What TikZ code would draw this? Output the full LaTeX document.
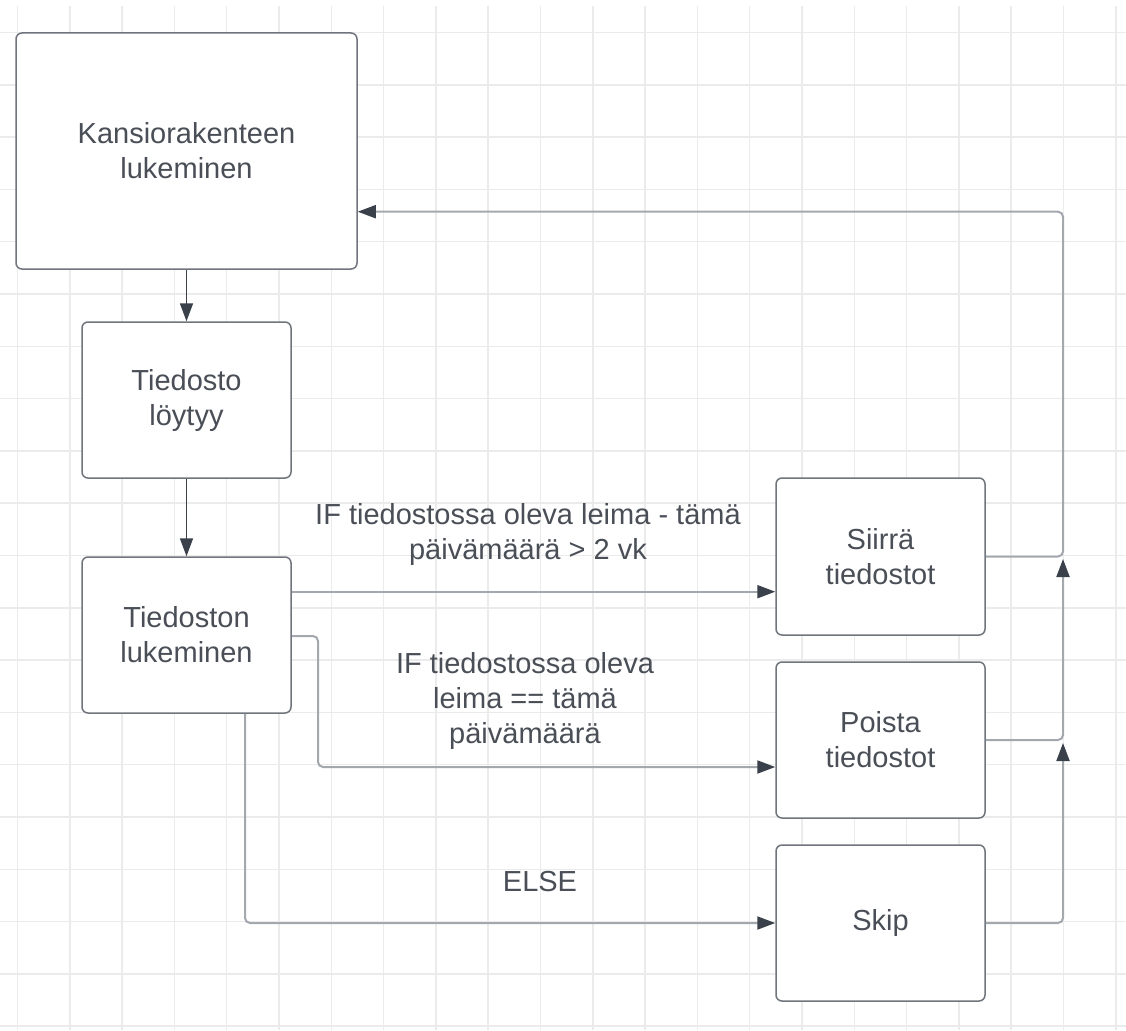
\documentclass[tikz,border=0pt]{standalone}
\usepackage{fontspec}
\setmainfont{Liberation Sans}
\usetikzlibrary{arrows.meta}
\definecolor{gridc}{HTML}{EBEBEB}
\definecolor{boxc}{HTML}{70757D}
\definecolor{txtc}{HTML}{4A4F57}
\definecolor{darkc}{HTML}{3A414A}
\definecolor{linec}{HTML}{A3A8AF}
\begin{document}
\begin{tikzpicture}[x=1pt,y=-1pt,
  stepbox/.style={draw=boxc, line width=1.5pt, rounded corners=6pt, fill=white, text=txtc, align=center, font=\fontsize{29}{35}\selectfont, inner sep=0pt},
  lbl/.style={text=txtc, align=center, font=\fontsize{29}{35}\selectfont, inner sep=0pt},
  darrow/.style={draw=darkc, line width=1.6pt, -{Triangle[length=18pt,width=13pt]}},
  garrow/.style={draw=linec, line width=2pt, rounded corners=5pt, -{Triangle[length=18pt,width=13pt,color=darkc]}},
  gridline/.style={draw=gridc, line width=1.5pt},
]
\fill[white] (0,0) rectangle (1126,1030);
\useasboundingbox (0,0) rectangle (1126,1030);
\foreach \i in {0,...,21} \draw[gridline] ({17.5+52.3*\i},6) -- ({17.5+52.3*\i},1030);
\foreach \j in {0,...,19} \draw[gridline] (0,{32.5+52.3*\j}) -- (1126,{32.5+52.3*\j});

\node[stepbox, minimum width=341pt, minimum height=236pt] (kans) at (186.5,151) {Kansiorakenteen\\lukeminen};
\node[stepbox, minimum width=209pt, minimum height=156pt] (loyt) at (186.5,400) {Tiedosto\\löytyy};
\node[stepbox, minimum width=209pt, minimum height=156pt] (luk) at (186.5,635) {Tiedoston\\lukeminen};
\node[stepbox, minimum width=209pt, minimum height=157pt] (siir) at (880.5,556.5) {Siirrä\\tiedostot};
\node[stepbox, minimum width=209pt, minimum height=156pt] (pois) at (880.5,740) {Poista\\tiedostot};
\node[stepbox, minimum width=209pt, minimum height=156pt] (skip) at (880.5,923) {Skip};

\coordinate (ya) at (0,591.7);
\coordinate (yb) at (0,636);
\coordinate (xb) at (318,0);
\coordinate (yp) at (0,767);
\coordinate (xc) at (245,0);
\coordinate (xr) at (1063,0);
\coordinate (yk) at (0,211.7);
\coordinate (tipa) at (0,559);
\coordinate (tipb) at (0,743);

\draw[darrow] (kans.south) -- (loyt.north);
\draw[darrow] (loyt.south) -- (luk.north);
\draw[garrow] (luk.east |- ya) -- (siir.west |- ya);
\draw[garrow] (luk.east |- yb) -| (xb |- yp) -- (pois.west |- yp);
\draw[garrow] (luk.south -| xc) |- (skip.west);
\draw[garrow] (siir.east) -| (xr |- yk) -- (kans.east |- yk);
\draw[garrow] (pois.east) -| (xr |- tipa);
\draw[garrow] (skip.east) -| (xr |- tipb);

\node[lbl] (l1) at (528,534) {IF tiedostossa oleva leima - tämä\\päivämäärä > 2 vk};
\node[lbl] (l2) at (525,701) {IF tiedostossa oleva\\leima == tämä\\päivämäärä};
\node[lbl] (l3) at (540,882) {ELSE};
\end{tikzpicture}
\end{document}
